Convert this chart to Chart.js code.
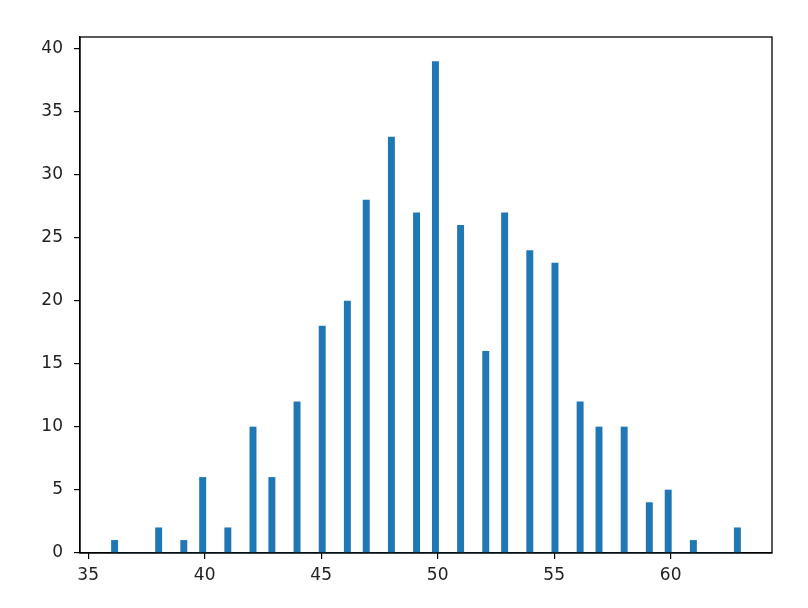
<!DOCTYPE html>
<html>
<head>
<meta charset="utf-8">
<script src="https://cdn.jsdelivr.net/npm/chart.js@4/dist/chart.umd.min.js"></script>
<style>
html,body{margin:0;padding:0;background:#fff;}
#wrap{width:808px;height:608px;position:relative;}
</style>
</head>
<body>
<div id="wrap"><canvas id="c" width="808" height="608"></canvas></div>
<script>
// Observed sample values and how many times each occurs
const sampleValues = [36, 38, 39, 40, 41, 42, 43, 44, 45, 46, 47, 48, 49, 50, 51, 52, 53, 54, 55, 56, 57, 58, 59, 60, 61, 63];
const sampleCounts = [1, 2, 1, 6, 2, 10, 6, 12, 18, 20, 28, 33, 27, 39, 26, 16, 27, 24, 23, 12, 10, 10, 4, 5, 1, 2];
const xTicks = [35, 40, 45, 50, 55, 60];
const yTicks = [0, 5, 10, 15, 20, 25, 30, 35, 40];
const nBins = 100;

// histogram binning (like matplotlib hist with bins=100)
const lo = Math.min(...sampleValues), hi = Math.max(...sampleValues);
const bw = (hi - lo) / nBins;
const binCounts = new Array(nBins).fill(0);
sampleValues.forEach((v, i) => {
  let k = Math.floor((v - lo) / bw);
  if (k >= nBins) k = nBins - 1;
  binCounts[k] += sampleCounts[i];
});
const points = binCounts.map((c, i) => ({x: lo + (i + 0.5) * bw, y: c}));
const pad = (hi - lo) * 0.05;
const ymax = Math.max(...binCounts) * 1.05;

const FONT = {family: 'DejaVu Sans', size: 17};

const frame = {
  id: 'frame',
  afterDraw(chart) {
    const a = chart.chartArea, ctx = chart.ctx;
    ctx.save();
    ctx.strokeStyle = '#000';
    ctx.lineWidth = 1.3;
    ctx.strokeRect(a.left, a.top, a.right - a.left, a.bottom - a.top);
    ctx.restore();
  }
};

new Chart(document.getElementById('c'), {
  type: 'bar',
  data: {
    datasets: [{
      data: points,
      backgroundColor: '#1f77b4',
      borderWidth: 0,
      barPercentage: 1.0,
      categoryPercentage: 1.0
    }]
  },
  options: {
    responsive: false,
    animation: false,
    devicePixelRatio: 1,
    layout: {padding: {top: 37, right: 36, left: 0, bottom: 0}},
    plugins: {legend: {display: false}, tooltip: {enabled: false}},
    scales: {
      x: {
        type: 'linear',
        offset: false,
        min: lo - pad,
        max: hi + pad,
        afterBuildTicks: s => { s.ticks = xTicks.map(v => ({value: v})); },
        afterFit: s => { s.height = 55; },
        grid: {display: true, offset: false, drawOnChartArea: false, drawTicks: true, tickLength: 6, color: '#000', lineWidth: 1.2},
        border: {display: true, color: '#000', width: 1.3},
        ticks: {color: '#222', font: FONT, padding: 6, maxRotation: 0}
      },
      y: {
        min: 0,
        max: ymax,
        afterBuildTicks: s => { s.ticks = yTicks.map(v => ({value: v})); },
        afterFit: s => { s.width = 80; },
        grid: {display: true, drawOnChartArea: false, drawTicks: true, tickLength: 6, color: '#000', lineWidth: 1.2},
        border: {display: true, color: '#000', width: 1.3},
        ticks: {color: '#222', font: FONT, padding: 11}
      }
    }
  },
  plugins: [frame]
});
</script>
</body>
</html>
